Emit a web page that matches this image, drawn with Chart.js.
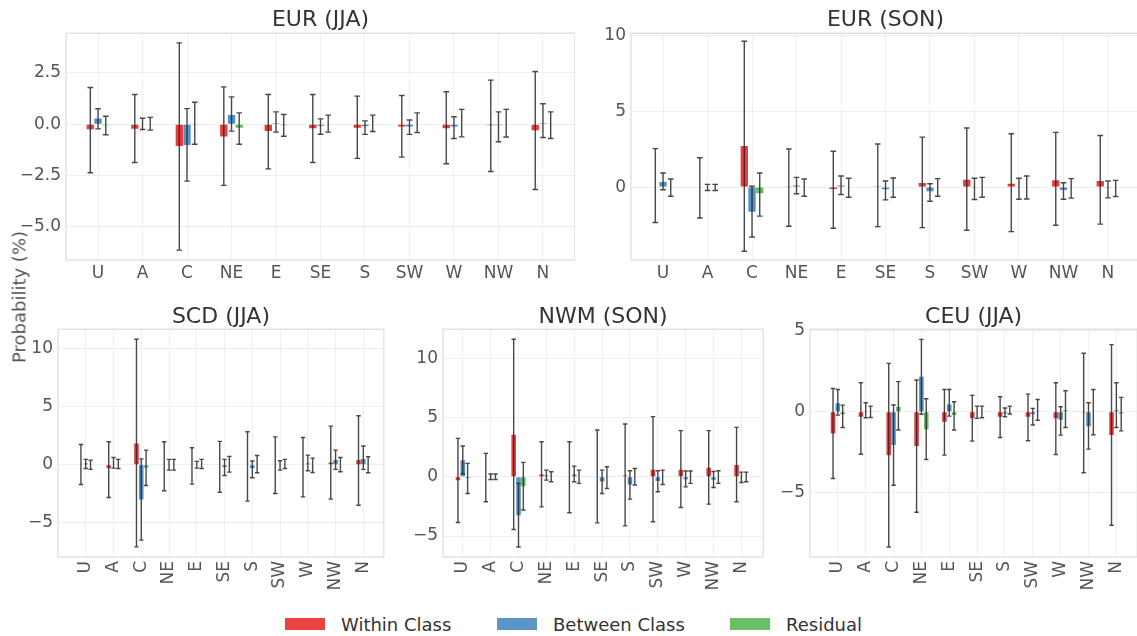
<!DOCTYPE html>
<html><head><meta charset="utf-8">
<script src="https://cdn.jsdelivr.net/npm/chart.js@4.4.1/dist/chart.umd.min.js"></script>
<style>
html,body{margin:0;padding:0;background:#fff;width:1137px;height:636px;overflow:hidden;position:relative;font-family:'DejaVu Sans',sans-serif;}
canvas{position:absolute;}
#ylab{position:absolute;left:19px;top:297px;transform:translate(-50%,-50%) rotate(-90deg);font-size:18px;color:#555;white-space:nowrap;}
.lg{position:absolute;top:614px;height:20px;display:flex;align-items:center;font-size:18px;color:#333;white-space:nowrap;}
.lg .box{display:inline-block;width:40px;height:12px;margin-right:16px;}
</style></head><body>
<canvas id="p1" width="557" height="288" style="left:18px;top:2px"></canvas>
<canvas id="p2" width="550" height="288" style="left:590px;top:2px"></canvas>
<canvas id="p3" width="370" height="299" style="left:18px;top:301px"></canvas>
<canvas id="p4" width="361" height="299" style="left:405px;top:301px"></canvas>
<canvas id="p5" width="366" height="299" style="left:775px;top:301px"></canvas>
<div id="ylab">Probability (%)</div>
<div class="lg" style="left:285px"><span class="box" style="background:rgba(228,26,28,0.82)"></span>Within Class</div>
<div class="lg" style="left:497px"><span class="box" style="background:rgba(55,126,184,0.82)"></span>Between Class</div>
<div class="lg" style="left:730px"><span class="box" style="background:rgba(77,175,74,0.82)"></span>Residual</div>
<script>
const categories = ['U','A','C','NE','E','SE','S','SW','W','NW','N'];
const seriesNames = ['Within Class','Between Class','Residual'];

// EUR (JJA)
const eurJJA_within = [-0.25,-0.22,-1.07,-0.6,-0.33,-0.2,-0.18,-0.12,-0.2,-0.05,-0.3];
const eurJJA_withinErr = [[-2.37,1.79],[-1.87,1.45],[-6.15,3.97],[-2.99,1.82],[-2.18,1.45],[-1.87,1.45],[-1.67,1.37],[-1.61,1.4],[-1.93,1.58],[-2.31,2.15],[-3.19,2.57]];
const eurJJA_between = [0.28,0,-1.02,0.45,0.05,-0.08,-0.1,-0.12,-0.12,-0.05,0.05];
const eurJJA_betweenErr = [[-0.23,0.75],[-0.26,0.29],[-2.78,0.76],[-0.34,1.33],[-0.39,0.6],[-0.49,0.26],[-0.5,0.16],[-0.5,0.2],[-0.7,0.36],[-0.86,0.6],[-0.65,1.0]];
const eurJJA_residual = [-0.05,0,-0.02,-0.18,-0.05,0,0,0,0,0,0];
const eurJJA_residualErr = [[-0.52,0.39],[-0.29,0.33],[-0.98,1.07],[-0.98,0.55],[-0.59,0.47],[-0.39,0.44],[-0.36,0.44],[-0.41,0.55],[-0.62,0.72],[-0.63,0.72],[-0.7,0.6]];
const eurJJA_yTicks = [-5,-2.5,0,2.5];

// EUR (SON)
const eurSON_within = [0.04,0,2.71,0.03,-0.12,0.06,0.27,0.49,0.22,0.45,0.4];
const eurSON_withinErr = [[-2.33,2.53],[-2.04,1.93],[-4.22,9.6],[-2.58,2.51],[-2.71,2.36],[-2.6,2.84],[-2.67,3.29],[-2.84,3.89],[-2.93,3.51],[-2.51,3.6],[-2.44,3.4]];
const eurSON_between = [0.33,0,-1.62,0.1,0.1,-0.15,-0.27,-0.05,0,-0.2,-0.05];
const eurSON_betweenErr = [[-0.18,0.93],[-0.22,0.18],[-3.29,0.05],[-0.44,0.64],[-0.49,0.73],[-0.84,0.4],[-0.93,0.22],[-0.82,0.58],[-0.8,0.58],[-0.8,0.29],[-0.71,0.4]];
const eurSON_residual = [0,0,-0.4,0,0,0,0,0,0,0,0];
const eurSON_residualErr = [[-0.6,0.53],[-0.22,0.18],[-1.91,0.93],[-0.6,0.53],[-0.67,0.58],[-0.67,0.6],[-0.6,0.56],[-0.67,0.64],[-0.78,0.73],[-0.73,0.56],[-0.62,0.44]];
const eurSON_yTicks = [0,5,10];

// SCD (JJA)
const scdJJA_within = [0,-0.3,1.84,0,0,0,0,0,0,0.2,0.4];
const scdJJA_withinErr = [[-1.7,1.75],[-2.82,1.98],[-7.07,10.8],[-2.24,1.98],[-1.67,1.47],[-2.36,2.01],[-3.13,2.84],[-2.47,2.4],[-2.76,2.35],[-2.96,3.33],[-3.48,4.22]];
const scdJJA_between = [0.1,0.05,-2.99,0,0,-0.2,-0.3,0,0.1,0.4,0.5];
const scdJJA_betweenErr = [[-0.32,0.46],[-0.29,0.63],[-6.49,0.51],[-0.46,0.46],[-0.29,0.29],[-0.92,0.46],[-1.12,0.32],[-0.46,0.34],[-0.52,0.83],[-0.4,1.26],[-0.4,1.61]];
const scdJJA_residual = [0,0,-0.25,0,0.05,0,0,0,0,0,0];
const scdJJA_residualErr = [[-0.4,0.4],[-0.32,0.46],[-1.78,1.26],[-0.46,0.46],[-0.32,0.46],[-0.63,0.72],[-0.69,0.8],[-0.32,0.46],[-0.66,0.57],[-0.6,0.63],[-0.69,0.69]];
const scdJJA_yTicks = [-5,0,5,10];

// NWM (SON)
const nwmSON_within = [-0.3,0,3.55,0.2,0,0,0.1,0.6,0.6,0.75,1.0];
const nwmSON_withinErr = [[-3.86,3.24],[-2.11,1.97],[-4.45,11.6],[-2.54,2.96],[-3.04,2.96],[-3.89,3.94],[-4.14,4.45],[-3.8,5.07],[-2.59,3.89],[-2.31,3.89],[-2.11,4.17]];
const nwmSON_between = [1.4,0,-3.24,0.1,0.2,-0.4,-0.65,-0.35,-0.2,-0.25,-0.05];
const nwmSON_betweenErr = [[0.25,2.59],[-0.23,0.23],[-5.92,-0.56],[-0.28,0.56],[-0.42,0.9],[-1.41,0.56],[-1.89,0.51],[-1.27,0.51],[-0.85,0.48],[-0.9,0.45],[-0.48,0.39]];
const nwmSON_residual = [-0.1,0,-0.8,0,0,-0.05,-0.05,-0.05,0,0,0];
const nwmSON_residualErr = [[-1.41,1.13],[-0.23,0.23],[-2.8,1.21],[-0.42,0.42],[-0.56,0.56],[-0.99,0.85],[-0.7,0.7],[-0.65,0.56],[-0.56,0.48],[-0.56,0.51],[-0.42,0.39]];
const nwmSON_yTicks = [-5,0,5,10];

// CEU (JJA)
const ceuJJA_within = [-1.34,-0.3,-2.68,-2.12,-0.62,-0.4,-0.3,-0.3,-0.4,-0.05,-1.44];
const ceuJJA_withinErr = [[-4.12,1.44],[-2.62,1.79],[-8.35,2.99],[-6.21,1.96],[-2.68,1.38],[-1.81,1.01],[-1.59,0.93],[-1.79,1.09],[-2.64,1.79],[-3.77,3.61],[-7.01,4.15]];
const ceuJJA_between = [0.52,0.05,-2.06,2.16,0.45,0,-0.1,-0.15,-0.5,-0.89,0.1];
const ceuJJA_betweenErr = [[-0.21,1.38],[-0.37,0.56],[-4.54,0.42],[-0.15,4.47],[-0.27,1.38],[-0.41,0.35],[-0.31,0.23],[-0.82,0.21],[-1.44,0.31],[-2.31,0.56],[-0.97,1.79]];
const ceuJJA_residual = [-0.15,0,0.31,-1.09,-0.2,0,0,0.05,0.1,0,-0.1];
const ceuJJA_residualErr = [[-0.97,0.41],[-0.35,0.35],[-1.13,1.86],[-2.95,0.8],[-1.13,0.62],[-0.37,0.35],[-0.14,0.35],[-0.52,0.76],[-0.97,1.3],[-1.42,1.38],[-1.18,0.89]];
const ceuJJA_yTicks = [-5,0,5];

const COLORS = ['rgba(228,26,28,0.85)','rgba(55,126,184,0.85)','rgba(77,175,74,0.85)'];
const FONT = 'DejaVu Sans';

const errorBars = {
  id: 'errorBars',
  afterDatasetsDraw(chart, args, opts) {
    const ys = chart.scales.y, c = chart.ctx;
    c.save();
    c.strokeStyle = 'rgba(40,40,40,0.85)';
    c.lineWidth = 1.4;
    chart.data.datasets.forEach((ds, d) => {
      const meta = chart.getDatasetMeta(d);
      meta.data.forEach((el, i) => {
        const e = ds.errs[i];
        const x = el.x, y1 = ys.getPixelForValue(e[0]), y2 = ys.getPixelForValue(e[1]);
        const cap = opts.cap;
        c.beginPath();
        c.moveTo(x, y1); c.lineTo(x, y2);
        c.moveTo(x - cap, y1); c.lineTo(x + cap, y1);
        c.moveTo(x - cap, y2); c.lineTo(x + cap, y2);
        c.stroke();
      });
    });
    c.restore();
  }
};
const frame = {
  id: 'frame',
  beforeDatasetsDraw(chart) {
    const a = chart.chartArea, c = chart.ctx;
    c.save();
    c.strokeStyle = '#dddddd';
    c.lineWidth = 1.2;
    c.strokeRect(a.left, a.top, a.right - a.left, a.bottom - a.top);
    c.restore();
  }
};

function fmt(dec) {
  return v => (v < 0 ? '\u2212' : '') + Math.abs(v).toFixed(dec);
}

function makePanel(id, p) {
  const ds = [
    [p.within, p.withinErr],
    [p.between, p.betweenErr],
    [p.residual, p.residualErr]
  ].map((s, k) => ({
    label: seriesNames[k],
    data: s[0].map((v, i) => ({x: i, y: v})),
    errs: s[1],
    backgroundColor: COLORS[k],
    borderWidth: 0,
    categoryPercentage: 0.52,
    barPercentage: 0.95
  }));
  new Chart(document.getElementById(id), {
    type: 'bar',
    data: {datasets: ds},
    options: {
      responsive: false, animation: false, devicePixelRatio: 1,
      layout: {padding: 0},
      plugins: {
        legend: {display: false},
        tooltip: {enabled: false},
        title: {display: true, text: p.title, fullSize: false, color: '#333',
          font: {family: FONT, size: 22, weight: 'normal', lineHeight: 1.1},
          padding: {top: p.tpt, bottom: p.tpb}},
        errorBars: {cap: p.cap}
      },
      scales: {
        x: {
          type: 'linear', min: p.xr[0], max: p.xr[1], offset: false,
          afterBuildTicks: s => { s.ticks = categories.map((c, i) => ({value: i})); },
          afterFit: s => { s.height = p.xh; },
          ticks: {autoSkip: false, maxRotation: p.rot, minRotation: p.rot, padding: p.xpad,
            font: {family: FONT, size: 17}, color: '#555', callback: v => categories[v]},
          grid: {color: '#f0f0f0', drawTicks: false, offset: false},
          border: {display: false}
        },
        y: {
          min: p.yr[0], max: p.yr[1],
          afterBuildTicks: s => { s.ticks = p.yTicks.map(v => ({value: v})); },
          afterFit: s => { s.width = p.yw; },
          ticks: {padding: 5, font: {family: FONT, size: 17}, color: '#555', callback: fmt(p.dec)},
          grid: {color: '#eeeeee', drawTicks: false},
          border: {display: false}
        }
      }
    },
    plugins: [frame, errorBars]
  });
}

makePanel('p1', {title: 'EUR (JJA)', within: eurJJA_within, withinErr: eurJJA_withinErr,
  between: eurJJA_between, betweenErr: eurJJA_betweenErr, residual: eurJJA_residual, residualErr: eurJJA_residualErr,
  yTicks: eurJJA_yTicks, dec: 1, yr: [-6.63, 4.44], xr: [-0.72, 10.72], yw: 48, xh: 30, rot: 0, xpad: 3, tpt: 6, tpb: 1, cap: 2.8});
makePanel('p2', {title: 'EUR (SON)', within: eurSON_within, withinErr: eurSON_withinErr,
  between: eurSON_between, betweenErr: eurSON_betweenErr, residual: eurSON_residual, residualErr: eurSON_residualErr,
  yTicks: eurSON_yTicks, dec: 0, yr: [-4.8, 10.13], xr: [-0.72, 10.72], yw: 41, xh: 30, rot: 0, xpad: 3, tpt: 6, tpb: 1, cap: 2.8});
makePanel('p3', {title: 'SCD (JJA)', within: scdJJA_within, withinErr: scdJJA_withinErr,
  between: scdJJA_between, betweenErr: scdJJA_betweenErr, residual: scdJJA_residual, residualErr: scdJJA_residualErr,
  yTicks: scdJJA_yTicks, dec: 0, yr: [-7.94, 11.67], xr: [-1.0, 10.74], yw: 40, xh: 43, rot: 90, xpad: 4, tpt: 4, tpb: 0, cap: 2.2});
makePanel('p4', {title: 'NWM (SON)', within: nwmSON_within, withinErr: nwmSON_withinErr,
  between: nwmSON_between, betweenErr: nwmSON_betweenErr, residual: nwmSON_residual, residualErr: nwmSON_residualErr,
  yTicks: nwmSON_yTicks, dec: 0, yr: [-6.77, 12.45], xr: [-0.71, 10.78], yw: 38, xh: 43, rot: 90, xpad: 4, tpt: 4, tpb: 0, cap: 2.2});
makePanel('p5', {title: 'CEU (JJA)', within: ceuJJA_within, withinErr: ceuJJA_withinErr,
  between: ceuJJA_between, betweenErr: ceuJJA_betweenErr, residual: ceuJJA_residual, residualErr: ceuJJA_residualErr,
  yTicks: ceuJJA_yTicks, dec: 0, yr: [-8.97, 5.1], xr: [-1.0, 10.75], yw: 35, xh: 43, rot: 90, xpad: 4, tpt: 4, tpb: 0, cap: 2.2});
</script>
</body></html>
